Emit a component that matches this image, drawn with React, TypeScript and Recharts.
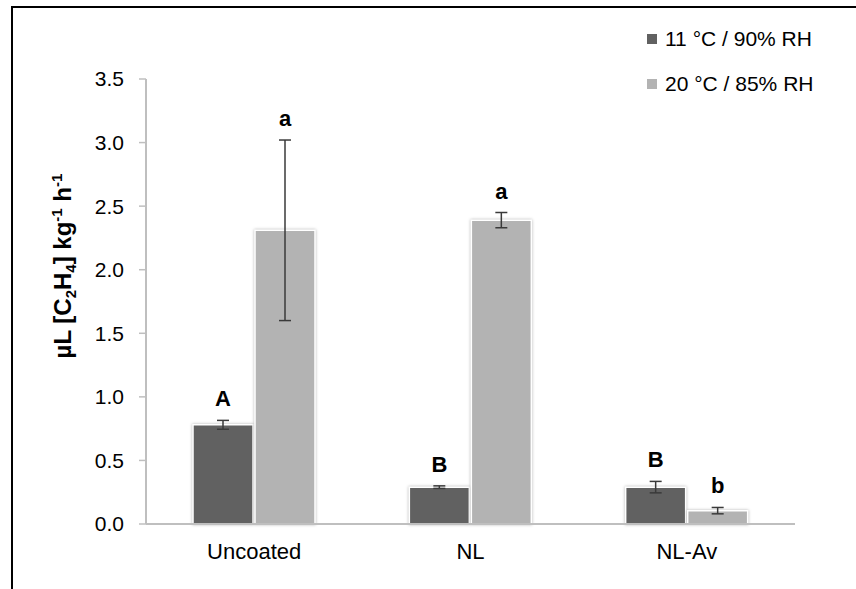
import React from 'react'
import { Bar, BarChart, ErrorBar, LabelList, XAxis, YAxis } from 'recharts'

const categories = ['Uncoated', 'NL', 'NL-Av']
const cool = [0.78, 0.29, 0.29]
const coolErr = [0.035, 0.01, 0.045]
const warm = [2.31, 2.39, 0.105]
const warmErr = [0.71, 0.06, 0.025]
const coolSig = ['A', 'B', 'B']
const warmSig = ['a', 'a', 'b']
const yTicks = [0, 0.5, 1, 1.5, 2, 2.5, 3, 3.5]

const series = [
  { key: 'cool', name: '11 °C / 90% RH', color: '#616161' },
  { key: 'warm', name: '20 °C / 85% RH', color: '#b3b3b3' },
]

const data = categories.map((name, i) => ({
  name,
  cool: cool[i],
  coolErr: coolErr[i],
  coolSig: coolSig[i],
  warm: warm[i],
  warmErr: warmErr[i],
  warmSig: warmSig[i],
}))

const FONT = '"Liberation Sans", Arial, sans-serif'

// significance letter sits a fixed distance above the top of the error bar
const letterRenderer = (valueKey: 'cool' | 'warm', errKey: 'coolErr' | 'warmErr') => (props: any) => {
  const { x, y, width, height, value, index } = props
  const row = data[index]
  const pxPerUnit = height / row[valueKey]
  const top = y - row[errKey] * pxPerUnit
  return (
    <text
      x={x + width / 2}
      y={top - 14}
      textAnchor="middle"
      fontFamily={FONT}
      fontWeight="bold"
      fontSize={22}
      fill="#000"
    >
      {value}
    </text>
  )
}

const YLabel = () => (
  <text
    transform="translate(71, 266) rotate(-90)"
    textAnchor="middle"
    fontFamily={FONT}
    fontWeight="bold"
    fontSize={24}
    fill="#000"
  >
    <tspan>µL [C</tspan>
    <tspan fontSize={15} dy={5}>2</tspan>
    <tspan dy={-5}>H</tspan>
    <tspan fontSize={15} dy={5}>4</tspan>
    <tspan dy={-5}>] kg</tspan>
    <tspan fontSize={15} dy={-9}>-1</tspan>
    <tspan dy={9}> h</tspan>
    <tspan fontSize={15} dy={-9}>-1</tspan>
  </text>
)

const LegendBox = () => (
  <div style={{ fontFamily: FONT, fontSize: 21, color: '#000' }}>
    {series.map((s) => (
      <div key={s.key} style={{ display: 'flex', alignItems: 'center', height: 45 }}>
        <div style={{ width: 10, height: 10, background: s.color, marginRight: 8 }} />
        <span>{s.name}</span>
      </div>
    ))}
  </div>
)

export default function App() {
  return (
    <div
      style={{
        position: 'absolute',
        left: 0,
        top: 0,
        width: 856,
        height: 589,
        background: '#fff',
        overflow: 'hidden',
      }}
    >
      <div
        style={{
          position: 'absolute',
          left: 11,
          top: 6,
          width: 900,
          height: 700,
          borderLeft: '2px solid #000',
          borderTop: '2px solid #000',
        }}
      />
      <div style={{ position: 'absolute', left: 0, top: 0 }}>
        <BarChart
          width={856}
          height={589}
          data={data}
          margin={{ top: 79, right: 61, bottom: 0, left: 0 }}
          barSize={60}
          barGap={2}
        >
          <XAxis
            dataKey="name"
            height={65}
            axisLine={{ stroke: '#bfbfbf', strokeWidth: 2 }}
            tickLine={false}
            tickSize={0}
            tickMargin={19}
            tick={{ fontFamily: FONT, fontSize: 22, fill: '#000' }}
          />
          <YAxis
            width={146}
            domain={[0, 3.5]}
            ticks={yTicks}
            tickFormatter={(v: number) => v.toFixed(1)}
            axisLine={{ stroke: '#bfbfbf', strokeWidth: 2 }}
            tickLine={{ stroke: '#bfbfbf', strokeWidth: 1.5 }}
            tickSize={7}
            tickMargin={15}
            tick={{ fontFamily: FONT, fontSize: 21, fill: '#000' }}
            label={{ content: <YLabel /> }}
          />
          {series.map((s) => (
            <Bar
              key={s.key}
              dataKey={s.key}
              name={s.name}
              fill={s.color}
              stroke="#fff"
              strokeWidth={1.5}
              style={{ filter: 'drop-shadow(0 0 1.5px rgba(0,0,0,0.3))' }}
              isAnimationActive={false}
            >
              <ErrorBar
                dataKey={s.key + 'Err'}
                width={6}
                stroke="#3a3a3a"
                strokeWidth={1.5}
                direction="y"
              />
              <LabelList
                dataKey={s.key + 'Sig'}
                content={letterRenderer(s.key as any, (s.key + 'Err') as any)}
              />
            </Bar>
          ))}
        </BarChart>
      </div>
      <div style={{ position: 'absolute', left: 647, top: 16 }}>
        <LegendBox />
      </div>
    </div>
  )
}
